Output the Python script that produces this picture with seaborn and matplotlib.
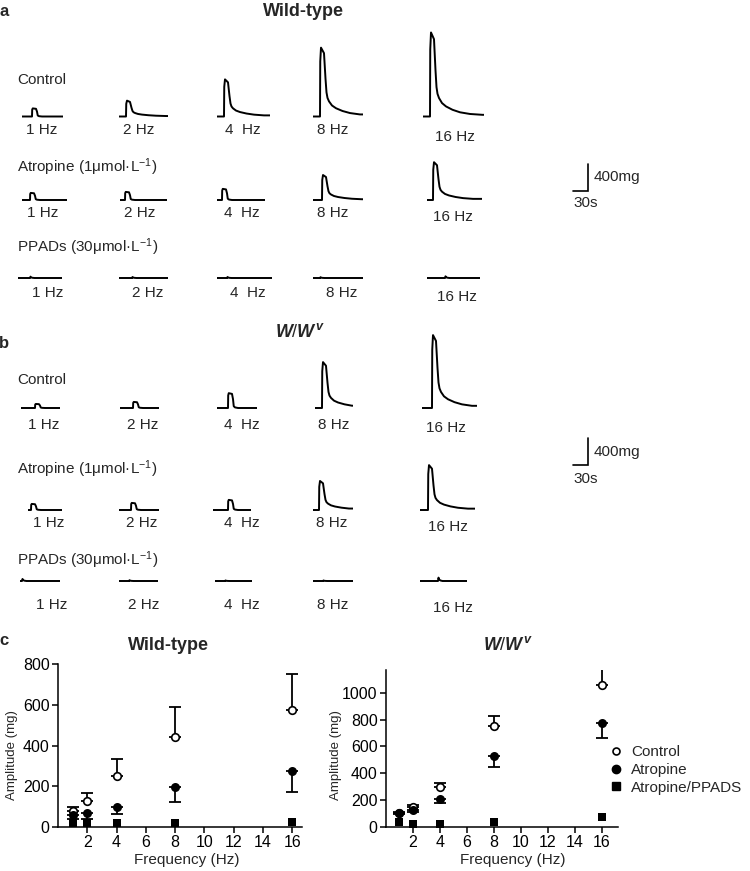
import matplotlib
matplotlib.use("Agg")
import numpy as np
import pandas as pd
import matplotlib.pyplot as plt
from matplotlib.lines import Line2D
import seaborn as sns

# ---------------- data ----------------
TRACE_FREQ_LABELS = ["1 Hz", "2 Hz", "4  Hz", "8 Hz", "16 Hz"]

# representative traces: peak amplitude (mg), onset (s), record length (s), shape
WT_CONTROL_PEAK_MG = [120, 235, 550, 1020, 1245]
WT_CONTROL_ONSET_S = [20, 14, 14, 14, 14]
WT_CONTROL_DUR_S = [82, 98, 106, 100, 122]
WT_CONTROL_SHAPE = ["pulse", "spike", "spike", "spike", "spike"]

WT_ATROPINE_PEAK_MG = [105, 120, 165, 370, 560]
WT_ATROPINE_ONSET_S = [16, 10, 10, 18, 12]
WT_ATROPINE_DUR_S = [90, 94, 96, 100, 110]
WT_ATROPINE_SHAPE = ["pulse", "pulse", "pulse", "spike", "spike"]

WT_PPADS_PEAK_MG = [20, 15, 15, 12, 25]
WT_PPADS_ONSET_S = [24, 26, 20, 14, 36]
WT_PPADS_DUR_S = [88, 98, 110, 100, 106]
WT_PPADS_SHAPE = ["bump"] * 5

WW_CONTROL_PEAK_MG = [60, 90, 220, 680, 1080]
WW_CONTROL_ONSET_S = [28, 26, 22, 14, 20]
WW_CONTROL_DUR_S = [78, 78, 80, 76, 110]
WW_CONTROL_SHAPE = ["pulse", "pulse", "pulse", "spike", "spike"]

WW_ATROPINE_PEAK_MG = [90, 105, 150, 430, 665]
WW_ATROPINE_ONSET_S = [6, 24, 30, 12, 16]
WW_ATROPINE_DUR_S = [68, 80, 76, 80, 110]
WW_ATROPINE_SHAPE = ["pulse", "pulse", "pulse", "spike", "spike"]

WW_PPADS_PEAK_MG = [30, 12, 8, 8, 50]
WW_PPADS_ONSET_S = [4, 20, 20, 20, 36]
WW_PPADS_DUR_S = [80, 78, 74, 80, 94]
WW_PPADS_SHAPE = ["bump"] * 5

# normalised waveform shapes (time after onset in s, fraction of peak)
PULSE_T = [0, 0.4, 1.5, 8, 10, 11.5, 14, 20]
PULSE_Y = [0, 0.85, 1.0, 0.95, 0.6, 0.12, 0.04, 0.0]
SPIKE_T = [0, 0.5, 2, 8, 11, 13, 15, 18, 24, 32, 45, 60, 80, 105]
SPIKE_Y = [0, 0.8, 1.0, 0.92, 0.55, 0.35, 0.27, 0.22, 0.16, 0.12, 0.08, 0.05, 0.03, 0.02]
BUMP_T = [0, 1, 2.5, 5, 9]
BUMP_Y = [0, 1.0, 0.4, 0.15, 0.0]

# summary data (panel c)
FREQ_HZ = [1, 2, 4, 8, 16]
WT_CONTROL_MEAN = [78, 130, 250, 443, 572]
WT_CONTROL_SEM = [20, 37, 85, 145, 180]
WT_ATROPINE_MEAN = [58, 68, 98, 197, 273]
WT_ATROPINE_SEM = [18, 28, 33, 72, 100]
WT_PPADS_MEAN = [22, 20, 22, 22, 25]

WW_CONTROL_MEAN = [107, 151, 298, 753, 1060]
WW_CONTROL_SEM = [8, 10, 30, 75, 120]
WW_ATROPINE_MEAN = [107, 127, 209, 532, 778]
WW_ATROPINE_SEM = [10, 12, 30, 82, 114]
WW_PPADS_MEAN = [40, 22, 22, 37, 77]

SHAPES = {"pulse": (PULSE_T, PULSE_Y), "spike": (SPIKE_T, SPIKE_Y), "bump": (BUMP_T, BUMP_Y)}

# ---------------- style ----------------
sns.set_style("ticks")
plt.rcParams["font.family"] = ["Liberation Sans", "DejaVu Sans"]
plt.rcParams["mathtext.fontset"] = "custom"
plt.rcParams["mathtext.rm"] = "Liberation Sans"
plt.rcParams["mathtext.it"] = "Liberation Sans:italic:bold"
plt.rcParams["mathtext.bf"] = "Liberation Sans:bold"
plt.rcParams["axes.edgecolor"] = "black"
plt.rcParams["xtick.color"] = "black"
plt.rcParams["ytick.color"] = "black"

W, H = 750, 871
fig = plt.figure(figsize=(W / 100, H / 100), dpi=100)
FS = 11


def px_axes(x0, y0, x1, y1):
    return fig.add_axes([x0 / W, 1 - y1 / H, (x1 - x0) / W, (y1 - y0) / H])


def txt(x, y, s, **kw):
    kw.setdefault("fontsize", FS)
    kw.setdefault("va", "center")
    return fig.text(x / W, 1 - y / H, s, **kw)


PX_PER_MG = 27 / 400
PX_PER_S = 15 / 30
Y_LO, Y_HI = -100, 1500


def build_trace(peak, onset, dur, shape):
    T, Y = SHAPES[shape]
    t = [0, onset]
    y = [0, 0]
    for ti, yi in zip(T, Y):
        if onset + ti <= dur:
            t.append(onset + ti)
            y.append(peak * yi)
    t.append(dur)
    y.append(y[-1])
    return pd.DataFrame({"t": t, "mg": y})


def trace_axes(x_start, baseline_y, dur):
    ax = px_axes(x_start, baseline_y - Y_HI * PX_PER_MG,
                 x_start + dur * PX_PER_S, baseline_y - Y_LO * PX_PER_MG)
    ax.set_xlim(0, dur)
    ax.set_ylim(Y_LO, Y_HI)
    ax.axis("off")
    return ax


ATROPINE_LABEL = "Atropine (1\u03bcmol\u00b7L$^{\u22121}$)"
PPADS_LABEL = "PPADs (30\u03bcmol\u00b7L$^{\u22121}$)"

# layout of trace rows
ROWS = [
    dict(label="Control", lab_y=80, base=116.5, f_y=130, f_y16=137,
         x=[22, 119, 217, 313, 423], fx=[42, 139, 243, 333, 455],
         peak=WT_CONTROL_PEAK_MG, onset=WT_CONTROL_ONSET_S, dur=WT_CONTROL_DUR_S, shape=WT_CONTROL_SHAPE),
    dict(label=ATROPINE_LABEL, lab_y=167, base=200, f_y=213, f_y16=217,
         x=[22, 120, 217, 313, 427], fx=[43, 140, 242, 333, 453],
         peak=WT_ATROPINE_PEAK_MG, onset=WT_ATROPINE_ONSET_S, dur=WT_ATROPINE_DUR_S, shape=WT_ATROPINE_SHAPE),
    dict(label=PPADS_LABEL, lab_y=247, base=278, f_y=293, f_y16=297,
         x=[18, 119, 217, 313, 427], fx=[48, 148, 248, 342, 457],
         peak=WT_PPADS_PEAK_MG, onset=WT_PPADS_ONSET_S, dur=WT_PPADS_DUR_S, shape=WT_PPADS_SHAPE),
    dict(label="Control", lab_y=380, base=408, f_y=425, f_y16=428,
         x=[21, 120, 217, 315, 422], fx=[44, 143, 242, 334, 446],
         peak=WW_CONTROL_PEAK_MG, onset=WW_CONTROL_ONSET_S, dur=WW_CONTROL_DUR_S, shape=WW_CONTROL_SHAPE),
    dict(label=ATROPINE_LABEL, lab_y=469, base=510, f_y=523, f_y16=527,
         x=[28, 119, 213, 313, 420], fx=[49, 142, 242, 332, 448],
         peak=WW_ATROPINE_PEAK_MG, onset=WW_ATROPINE_ONSET_S, dur=WW_ATROPINE_DUR_S, shape=WW_ATROPINE_SHAPE),
    dict(label=PPADS_LABEL, lab_y=560, base=581, f_y=605, f_y16=608,
         x=[20, 119, 215, 313, 420], fx=[52, 144, 242, 333, 453],
         peak=WW_PPADS_PEAK_MG, onset=WW_PPADS_ONSET_S, dur=WW_PPADS_DUR_S, shape=WW_PPADS_SHAPE),
]

for row in ROWS:
    txt(17, row["lab_y"], row["label"], ha="left")
    for i in range(5):
        df = build_trace(row["peak"][i], row["onset"][i], row["dur"][i], row["shape"][i])
        ax = trace_axes(row["x"][i], row["base"], row["dur"][i])
        sns.lineplot(data=df, x="t", y="mg", ax=ax, color="black", linewidth=1.4,
                     estimator=None, sort=False, legend=False)
        fy_ = row["f_y16"] if i == 4 else row["f_y"]
        txt(row["fx"][i], fy_, TRACE_FREQ_LABELS[i], ha="center")

# scale bars (400 mg, 30 s)
SCALE_MG = 400
SCALE_S = 30
for (corner_x, corner_y, lab_y, s_y) in [(588, 191, 177, 203), (588, 465, 452, 479)]:
    ax = px_axes(corner_x - SCALE_S * PX_PER_S, corner_y - SCALE_MG * PX_PER_MG, corner_x, corner_y)
    ax.set_xlim(-SCALE_S, 0)
    ax.set_ylim(0, SCALE_MG)
    ax.axis("off")
    ax.plot([-SCALE_S, 0, 0], [0, 0, SCALE_MG], color="black", linewidth=1.2,
            clip_on=False, solid_joinstyle="miter")
    txt(corner_x + 6, lab_y, "400mg", ha="left")
    txt(corner_x - 15, s_y, "30s", ha="left")

# panel letters and titles
txt(4, 12, "a", ha="center", fontweight="bold", fontsize=12)
txt(303, 12, "Wild-type", ha="center", fontweight="bold", fontsize=13)
txt(4, 343, "b", ha="center", fontweight="bold", fontsize=12)
txt(300, 332, "$W/W^{v}$", ha="center", fontsize=13)
txt(4, 640, "c", ha="center", fontweight="bold", fontsize=12)


# ---------------- panel c ----------------
def summary(ax, ctrl, ctrl_sem, atr, atr_sem, ppads, ylim, yticks, xlim):
    zeros = [0] * len(FREQ_HZ)
    ax.errorbar(FREQ_HZ, ctrl, yerr=[zeros, ctrl_sem], fmt="none", ecolor="black",
                elinewidth=1.3, capsize=4, capthick=1.3, zorder=2)
    ax.errorbar(FREQ_HZ, atr, yerr=[atr_sem, zeros], fmt="none", ecolor="black",
                elinewidth=1.3, capsize=4, capthick=1.3, zorder=2)
    sns.scatterplot(x=FREQ_HZ, y=ppads, ax=ax, marker="s", color="black", s=36,
                    linewidth=0, zorder=3, legend=False)
    sns.scatterplot(x=FREQ_HZ, y=ctrl, ax=ax, marker="o", color="white", edgecolor="black",
                    s=30, linewidth=1.2, zorder=4, legend=False)
    sns.scatterplot(x=FREQ_HZ, y=atr, ax=ax, marker="o", color="black", s=42,
                    linewidth=0, zorder=5, legend=False)
    ax.set_xlim(*xlim)
    ax.set_ylim(*ylim)
    ax.set_xticks([2, 4, 6, 8, 10, 12, 14, 16])
    ax.set_yticks(yticks)
    ax.tick_params(direction="out", length=4, width=1.1, labelsize=11.5, pad=2)
    ax.set_xlabel("")
    ax.set_ylabel("")
    sns.despine(ax=ax)
    for sp in ("left", "bottom"):
        ax.spines[sp].set_linewidth(1.1)


axl = px_axes(58, 664, 302, 827)
summary(axl, WT_CONTROL_MEAN, WT_CONTROL_SEM, WT_ATROPINE_MEAN, WT_ATROPINE_SEM,
        WT_PPADS_MEAN, (0, 800), [0, 200, 400, 600, 800], (0, 16.67))
axr = px_axes(386, 670, 618, 827)
summary(axr, WW_CONTROL_MEAN, WW_CONTROL_SEM, WW_ATROPINE_MEAN, WW_ATROPINE_SEM,
        WW_PPADS_MEAN, (0, 1170), [0, 200, 400, 600, 800, 1000], (0, 17.2))

txt(168, 645, "Wild-type", ha="center", fontweight="bold", fontsize=13)
txt(508, 645, "$W/W^{v}$", ha="center", fontsize=13)
txt(12, 755, "Amplitude (mg)", ha="center", rotation=90, fontsize=9.5)
txt(336, 755, "Amplitude (mg)", ha="center", rotation=90, fontsize=9.5)
txt(187, 860, "Frequency (Hz)", ha="center")
txt(513, 860, "Frequency (Hz)", ha="center")

handles = [
    Line2D([], [], linestyle="none", marker="o", markerfacecolor="white",
           markeredgecolor="black", markeredgewidth=1.2, markersize=5, label="Control"),
    Line2D([], [], linestyle="none", marker="o", color="black", markersize=6, label="Atropine"),
    Line2D([], [], linestyle="none", marker="s", color="black", markersize=5.5, label="Atropine/PPADS"),
]
fig.legend(handles=handles, loc="center left", bbox_to_anchor=(608 / W, 1 - 770 / H),
           frameon=False, fontsize=FS, handlelength=1.0, handletextpad=0.5,
           labelspacing=0.25, borderpad=0, borderaxespad=0)

fig.savefig("out.png", dpi=100)
